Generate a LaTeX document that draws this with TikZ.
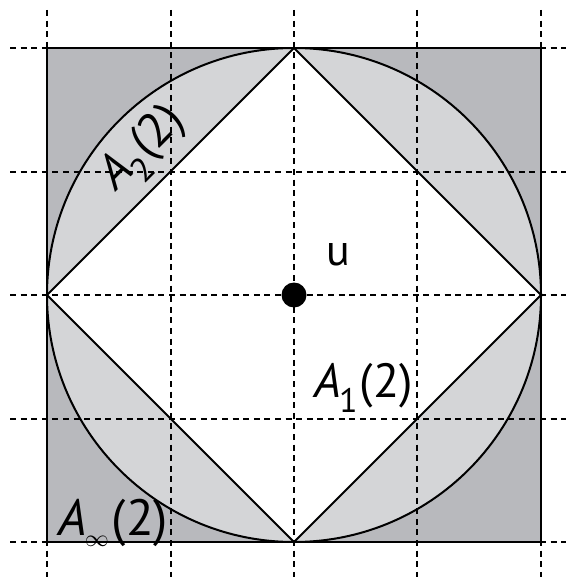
\documentclass[tikz,border=0pt]{standalone}
\usepackage{fontspec}
\setmainfont{PT Sans}
\definecolor{darkfill}{RGB}{184,185,189}
\definecolor{lightfill}{RGB}{212,213,215}
\tikzset{
  gridline/.style={dash pattern=on 3pt off 2.3pt, line width=0.9pt},
  outline/.style={line width=1pt, black},
  lbl/.style={inner sep=0pt, font=\fontsize{24}{28}\selectfont},
}
\newcommand{\subsc}[1]{\raisebox{-7.5pt}{\fontsize{17}{18}\selectfont #1}}
\begin{document}
\begin{tikzpicture}[x=0.5pt,y=-0.5pt]
\useasboundingbox (0,0) rectangle (568,577);
% key points
\coordinate (C) at (294,295);
\coordinate (TL) at (47,48);
\coordinate (BR) at (541,542);
\coordinate (T) at (294,48);
\coordinate (B) at (294,542);
\coordinate (L) at (47,295);
\coordinate (R) at (541,295);
% fills
\fill[darkfill] (TL) rectangle (BR);
\fill[lightfill] (C) circle[radius=247];
\fill[white] (T) -- (R) -- (B) -- (L) -- cycle;
% outlines
\draw[outline] (TL) rectangle (BR);
\draw[outline] (C) circle[radius=247];
\draw[outline] (T) -- (R) -- (B) -- (L) -- cycle;
% grid
\foreach \x in {47,171,294,417,541} {
  \coordinate (gv1) at (\x,10);
  \coordinate (gv2) at (\x,577);
  \draw[gridline] (gv1) -- (gv2);
}
\foreach \y in {48,172,295,419,542} {
  \coordinate (gh1) at (10,\y);
  \coordinate (gh2) at (566,\y);
  \draw[gridline] (gh1) -- (gh2);
}
% center point
\fill (C) circle[radius=12.5];
% labels
\node[lbl, font=\fontsize{22}{24}\selectfont] (u) at (338,255) {u};
\node[lbl, anchor=base west] (a1) at (314,397) {\itshape A\kern-1pt\upshape\subsc{1}\kern1pt(2)};
\node[lbl, anchor=base west, font=\fontsize{25.5}{30}\selectfont] (ainf) at (58,535) {\itshape A\kern-1pt\upshape\raisebox{-5.5pt}{\fontsize{12}{14}\selectfont$\infty$}\kern1.5pt(2)};
\node[lbl, rotate=45] (a2) at (144,150) {\itshape A\kern-1pt\upshape\subsc{2}\kern1pt(2)};
\end{tikzpicture}
\end{document}
